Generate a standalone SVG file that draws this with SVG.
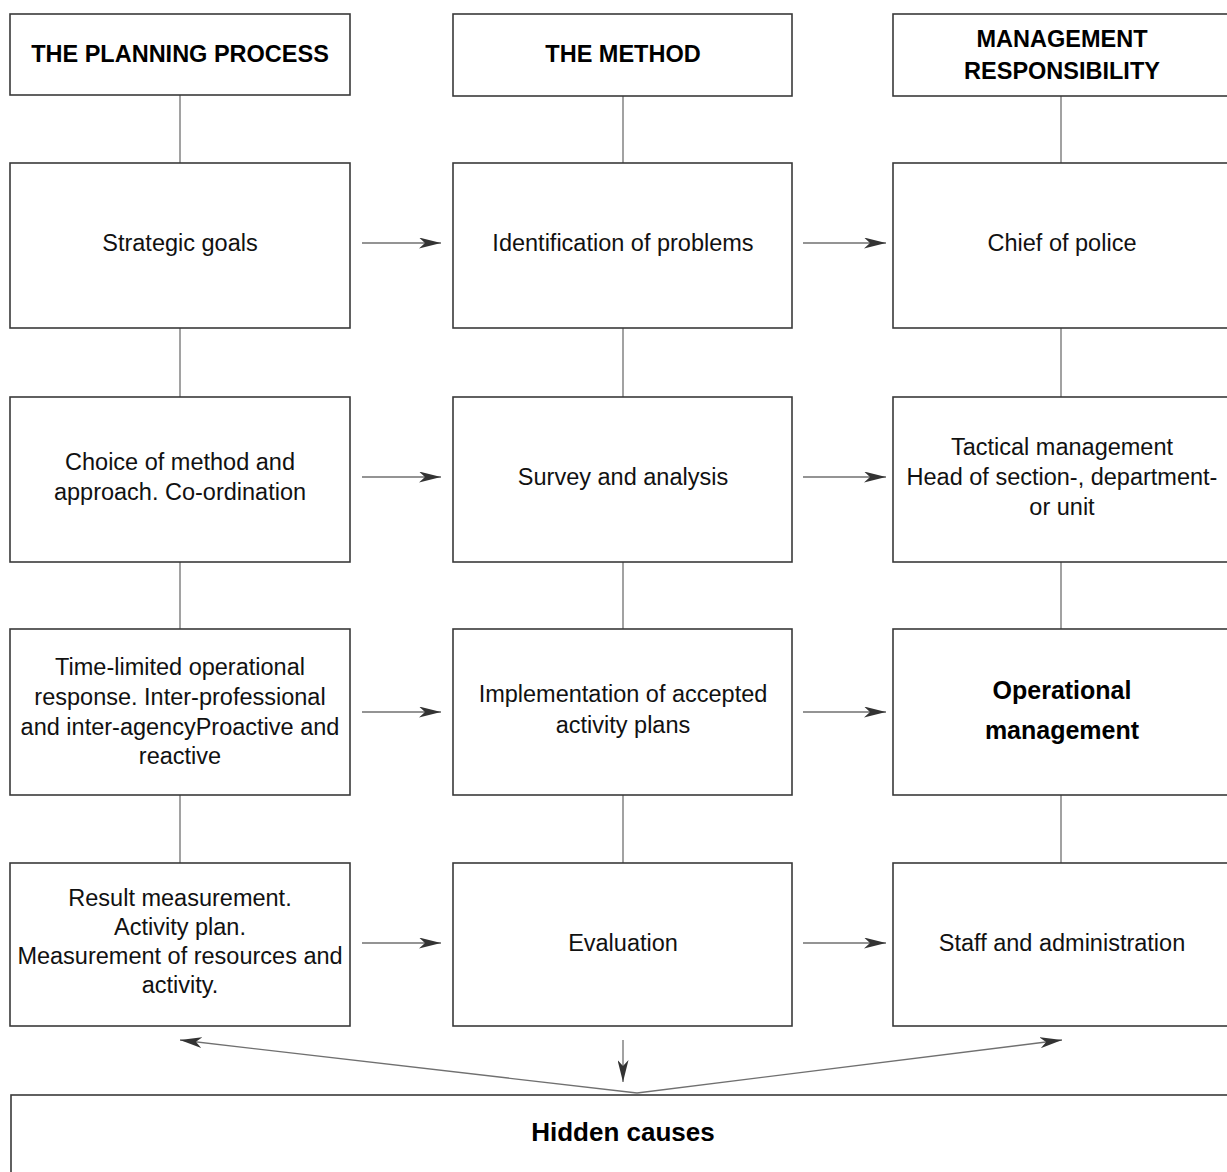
<svg xmlns="http://www.w3.org/2000/svg" width="1227" height="1172" viewBox="0 0 1227 1172">
<defs>
<style>
.box{fill:#fff;stroke:#3a3a3a;stroke-width:1.6}
.ln{fill:none;stroke:#707070;stroke-width:1.3}
.t{font-family:"Liberation Sans",Arial,sans-serif;font-size:23.5px;fill:#111;text-anchor:middle}
.h{font-family:"Liberation Sans",Arial,sans-serif;font-size:23.5px;font-weight:bold;fill:#000;text-anchor:middle}
.b{font-family:"Liberation Sans",Arial,sans-serif;font-size:25px;font-weight:bold;fill:#000;text-anchor:middle}
</style>
<marker id="ah" viewBox="0 0 22 11" refX="22" refY="5.5" markerWidth="22" markerHeight="11" markerUnits="userSpaceOnUse" orient="auto">
<path d="M0,0 L22,5.5 L0,11 L6,5.5 Z" fill="#333"/>
</marker>
</defs>
<rect width="1227" height="1172" fill="#fff"/>
<g id="connectors">
<line class="ln" x1="180" y1="95" x2="180" y2="163"/>
<line class="ln" x1="623" y1="96" x2="623" y2="163"/>
<line class="ln" x1="1061" y1="96" x2="1061" y2="163"/>
<line class="ln" x1="180" y1="328" x2="180" y2="397"/>
<line class="ln" x1="623" y1="328" x2="623" y2="397"/>
<line class="ln" x1="1061" y1="328" x2="1061" y2="397"/>
<line class="ln" x1="180" y1="562" x2="180" y2="629"/>
<line class="ln" x1="623" y1="562" x2="623" y2="629"/>
<line class="ln" x1="1061" y1="562" x2="1061" y2="629"/>
<line class="ln" x1="180" y1="795" x2="180" y2="863"/>
<line class="ln" x1="623" y1="795" x2="623" y2="863"/>
<line class="ln" x1="1061" y1="795" x2="1061" y2="863"/>
<line class="ln" x1="362" y1="243" x2="441" y2="243" marker-end="url(#ah)"/>
<line class="ln" x1="803" y1="243" x2="886" y2="243" marker-end="url(#ah)"/>
<line class="ln" x1="362" y1="477" x2="441" y2="477" marker-end="url(#ah)"/>
<line class="ln" x1="803" y1="477" x2="886" y2="477" marker-end="url(#ah)"/>
<line class="ln" x1="362" y1="712" x2="441" y2="712" marker-end="url(#ah)"/>
<line class="ln" x1="803" y1="712" x2="886" y2="712" marker-end="url(#ah)"/>
<line class="ln" x1="362" y1="943" x2="441" y2="943" marker-end="url(#ah)"/>
<line class="ln" x1="803" y1="943" x2="886" y2="943" marker-end="url(#ah)"/>
<line class="ln" x1="623" y1="1040" x2="623" y2="1082" marker-end="url(#ah)"/>
<line class="ln" x1="637" y1="1093" x2="180" y2="1040" marker-end="url(#ah)"/>
<line class="ln" x1="637" y1="1093" x2="1062" y2="1040" marker-end="url(#ah)"/>
</g>
<g id="h1"><rect class="box" x="10" y="14" width="340" height="81"/><text class="h" x="180" y="62">THE PLANNING PROCESS</text></g>
<g id="h2"><rect class="box" x="453" y="14" width="339" height="82"/><text class="h" x="623" y="62">THE METHOD</text></g>
<g id="h3"><rect class="box" x="893" y="14" width="345" height="82"/><text class="h" x="1062" y="47">MANAGEMENT</text><text class="h" x="1062" y="79">RESPONSIBILITY</text></g>

<g id="n11"><rect class="box" x="10" y="163" width="340" height="165"/><text class="t" x="180" y="251">Strategic goals</text></g>
<g id="n12"><rect class="box" x="453" y="163" width="339" height="165"/><text class="t" x="623" y="251">Identification of problems</text></g>
<g id="n13"><rect class="box" x="893" y="163" width="345" height="165"/><text class="t" x="1062" y="251">Chief of police</text></g>

<g id="n21"><rect class="box" x="10" y="397" width="340" height="165"/><text class="t" x="180" y="470">Choice of method and</text><text class="t" x="180" y="500">approach. Co-ordination</text></g>
<g id="n22"><rect class="box" x="453" y="397" width="339" height="165"/><text class="t" x="623" y="485">Survey and analysis</text></g>
<g id="n23"><rect class="box" x="893" y="397" width="345" height="165"/><text class="t" x="1062" y="455">Tactical management</text><text class="t" x="1062" y="485">Head of section-, department-</text><text class="t" x="1062" y="515">or unit</text></g>

<g id="n31"><rect class="box" x="10" y="629" width="340" height="166"/><text class="t" x="180" y="675">Time-limited operational</text><text class="t" x="180" y="705">response. Inter-professional</text><text class="t" x="180" y="735">and inter-agencyProactive and</text><text class="t" x="180" y="764">reactive</text></g>
<g id="n32"><rect class="box" x="453" y="629" width="339" height="166"/><text class="t" x="623" y="702">Implementation of accepted</text><text class="t" x="623" y="733">activity plans</text></g>
<g id="n33"><rect class="box" x="893" y="629" width="345" height="166"/><text class="b" x="1062" y="699">Operational</text><text class="b" x="1062" y="739">management</text></g>

<g id="n41"><rect class="box" x="10" y="863" width="340" height="163"/><text class="t" x="180" y="906">Result measurement.</text><text class="t" x="180" y="935">Activity plan.</text><text class="t" x="180" y="964">Measurement of resources and</text><text class="t" x="180" y="993">activity.</text></g>
<g id="n42"><rect class="box" x="453" y="863" width="339" height="163"/><text class="t" x="623" y="951">Evaluation</text></g>
<g id="n43"><rect class="box" x="893" y="863" width="345" height="163"/><text class="t" x="1062" y="951">Staff and administration</text></g>

<g id="hidden"><rect class="box" x="11" y="1095" width="1230" height="100"/><text class="b" x="623" y="1141" style="font-size:26px">Hidden causes</text></g>
</svg>
